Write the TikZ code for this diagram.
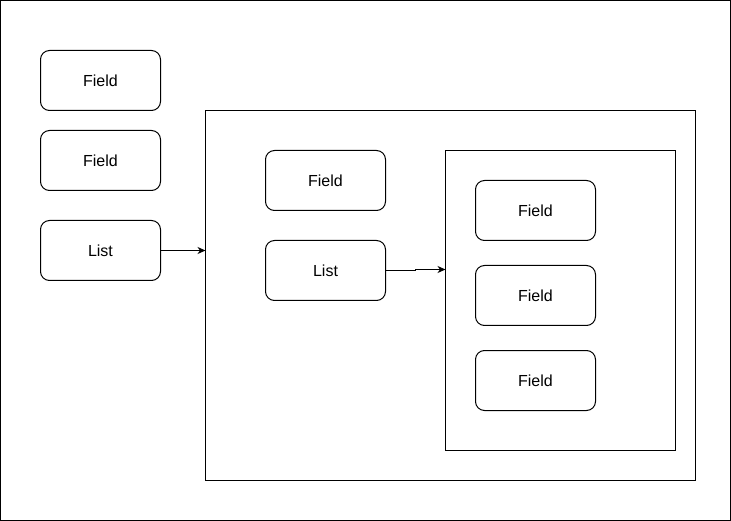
\documentclass[tikz,border=0pt]{standalone}
\usepackage{fontspec}
\setmainfont{Liberation Sans}
\usetikzlibrary{arrows.meta}
\newcommand{\lowtxt}[1]{\raisebox{-1.5pt}{#1}}
\begin{document}
\begin{tikzpicture}[x=1pt,y=-1pt,line width=1pt,
  every node/.style={outer sep=0pt},
  field/.style={draw,rounded corners=9pt,minimum width=120pt,minimum height=60pt,anchor=north west,inner sep=0pt,font=\fontsize{16}{18}\selectfont},
  frame/.style={draw,anchor=north west,inner sep=0pt},
  conn/.style={-{Stealth[length=8pt,width=7pt,inset=2.5pt]}}]
\useasboundingbox (0,0) rectangle (731,521);
\node[frame,minimum width=730pt,minimum height=520pt] (outer) at (0.5,0.5) {};
\node[field] (f1) at (40.5,50.5) {\lowtxt{Field}};
\node[field] (f2) at (40.5,130.5) {\lowtxt{Field}};
\node[field] (l1) at (40.5,220.5) {\lowtxt{List}};
\node[frame,minimum width=490pt,minimum height=370pt] (c1) at (205.5,110.5) {};
\node[field] (f3) at (265.5,150.5) {\lowtxt{Field}};
\node[field] (l2) at (265.5,240.5) {\lowtxt{List}};
\node[frame,minimum width=230pt,minimum height=300pt] (c2) at (445.5,150.5) {};
\node[field] (f4) at (475.5,180.5) {\lowtxt{Field}};
\node[field] (f5) at (475.5,265.5) {\lowtxt{Field}};
\node[field] (f6) at (475.5,350.5) {\lowtxt{Field}};
\coordinate (j) at (415.5,270.5);
\draw[conn] (l1.east) -- (l1.east -| c1.west);
\draw[conn] (l2.east) -- (j) -- ++(0,-1) -- (c2.west |- 0,269.5);
\end{tikzpicture}
\end{document}
